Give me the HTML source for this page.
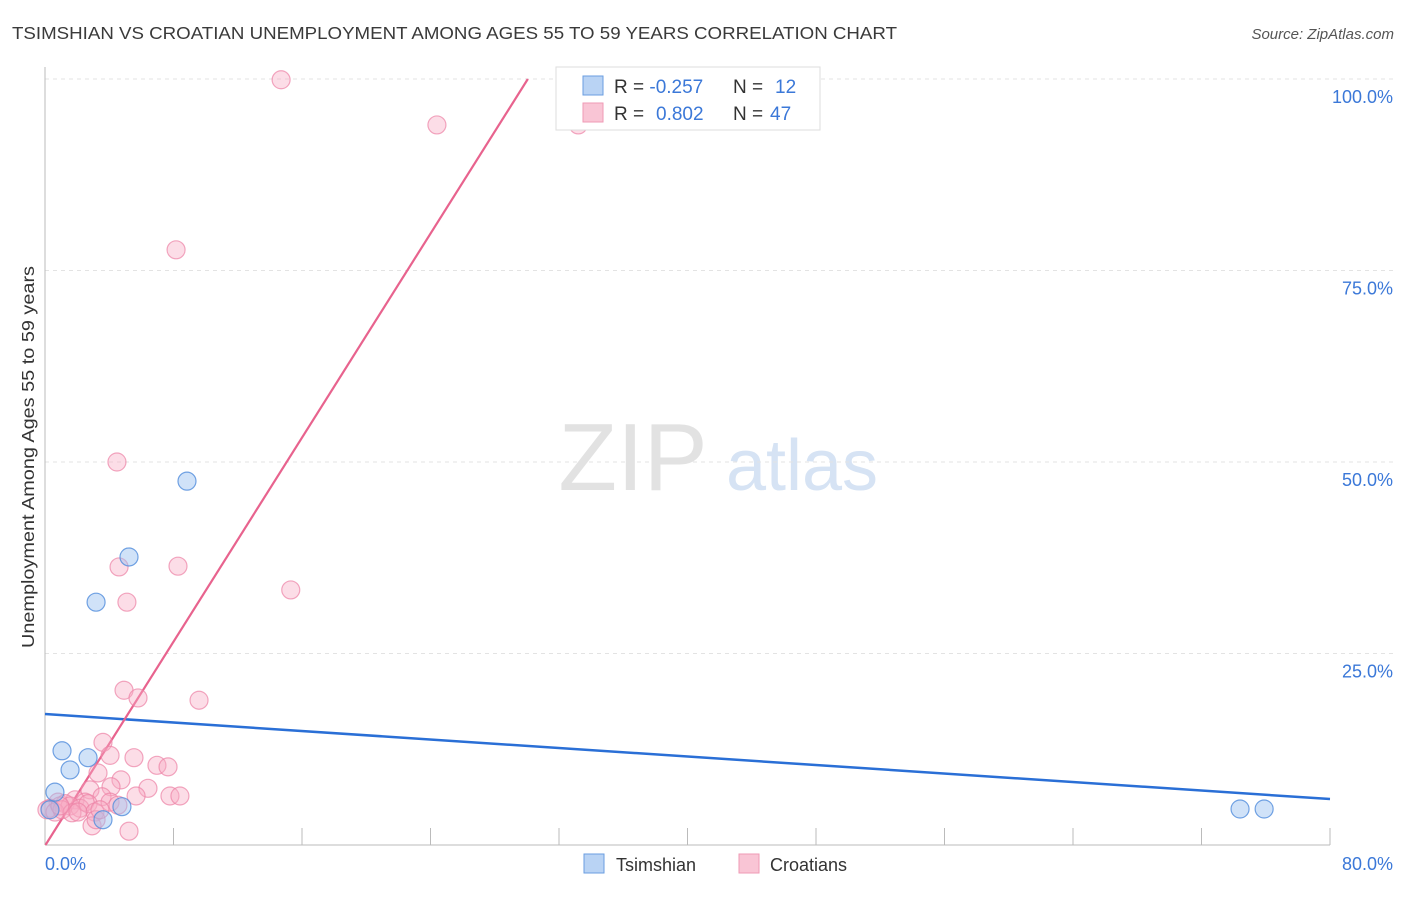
<!DOCTYPE html>
<html><head><meta charset="utf-8"><style>
body{margin:0;background:#fff;font-family:"Liberation Sans",sans-serif}
svg text{font-family:"Liberation Sans",sans-serif}
</style></head><body>
<svg id="chart" width="1406" height="892" xmlns="http://www.w3.org/2000/svg">
<text x="12" y="39" font-size="17.5" fill="#3a3a3a" textLength="885" lengthAdjust="spacingAndGlyphs">TSIMSHIAN VS CROATIAN UNEMPLOYMENT AMONG AGES 55 TO 59 YEARS CORRELATION CHART</text>
<text x="1394" y="39" font-size="15" fill="#555" text-anchor="end" font-style="italic">Source: ZipAtlas.com</text>
<g>
<text x="633" y="490" font-size="96" fill="#e2e2e2" text-anchor="middle" font-family="Liberation Serif, serif">ZIP</text>
<text x="802" y="490" font-size="72" fill="#d6e3f4" text-anchor="middle">atlas</text>
</g>
<g id="grid"></g>
<g id="axes"></g>
<g id="trends"></g>
<g id="points"></g>
<text transform="translate(34,648) rotate(-90)" font-size="17.5" fill="#333" textLength="382" lengthAdjust="spacingAndGlyphs">Unemployment Among Ages 55 to 59 years</text>
<text x="45" y="870" font-size="18" fill="#3b78d8">0.0%</text>
<text x="1393" y="870" font-size="18" fill="#3b78d8" text-anchor="end">80.0%</text>
<g>
<rect x="556" y="67" width="264" height="63" fill="#fff" stroke="#ddd"/>
<rect x="583" y="76" width="20" height="19" fill="#b9d3f4" stroke="#6a9ee0"/>
<rect x="583" y="103" width="20" height="19" fill="#f9c5d5" stroke="#ef9ab5"/>
<text x="614" y="93" font-size="19" fill="#333">R = <tspan fill="#3b78d8">-0.257</tspan><tspan x="733">N = </tspan><tspan fill="#3b78d8" x="775">12</tspan></text>
<text x="614" y="120" font-size="19" fill="#333">R = <tspan fill="#3b78d8" x="656">0.802</tspan><tspan x="733">N = </tspan><tspan fill="#3b78d8" x="770">47</tspan></text>
</g>
<g>
<rect x="584" y="854" width="20" height="19" fill="#b9d3f4" stroke="#6a9ee0"/>
<text x="616" y="871" font-size="18" fill="#333">Tsimshian</text>
<rect x="739" y="854" width="20" height="19" fill="#f9c5d5" stroke="#ef9ab5"/>
<text x="770" y="871" font-size="18" fill="#333">Croatians</text>
</g>
</svg>
<script>
const yTicks=[25,50,75,100];
const yTickLabels=["25.0%","50.0%","75.0%","100.0%"];
const xTicks=[0,8,16,24,32,40,48,56,64,72,80];
const tsimX=[0.62,1.06,1.56,2.68,3.18,3.61,4.79,5.23,8.84,74.4,75.9,0.31];
const tsimY=[6.9,12.3,9.8,11.4,31.7,3.3,5.0,37.6,47.5,4.7,4.7,4.6];
const croX=[14.7,24.4,33.2,8.16,4.48,4.61,8.28,5.1,15.3,4.92,5.79,9.59,3.61,4.05,5.54,6.97,7.66,3.3,4.73,6.41,4.11,2.8,5.67,7.78,8.4,3.55,1.87,2.49,0.81,1.25,1.56,2.18,0.31,0.12,0.62,1.06,2.68,3.11,4.05,4.54,2.93,5.23,3.18,3.42,1.68,0.93,2.05];
const croY=[99.9,94.0,94.0,77.7,50.0,36.3,36.4,31.7,33.3,20.2,19.2,18.9,13.4,11.7,11.4,10.4,10.2,9.4,8.5,7.4,7.6,7.2,6.4,6.4,6.4,6.3,5.9,5.6,5.6,5.4,5.1,4.8,4.8,4.6,4.3,4.6,5.4,4.3,5.6,5.2,2.5,1.8,3.3,4.6,4.2,5.1,4.3];
const tsimTrend=[17.1,6.0];   // y at x=0 and x=80
const croTrend=[-0.1,3.33];   // intercept, slope
const NS="http://www.w3.org/2000/svg";
const X=v=>45+v/80*1285, Y=v=>845-v/100*766;
function mk(tag,parent,attrs){const e=document.createElementNS(NS,tag);for(const k in attrs)e.setAttribute(k,attrs[k]);document.getElementById(parent).appendChild(e);return e;}
yTicks.forEach((t,i)=>{
 const g=mk('line','grid',{x1:45,x2:1393,y1:Y(t),y2:Y(t),stroke:'#e3e3e3','stroke-dasharray':'4,4'});
 
 
 const l=mk('text','grid',{x:1393,y:Y(t)+24,'font-size':18,fill:'#3b78d8','text-anchor':'end'});
 l.textContent=yTickLabels[i];
 
 
});
const xa=mk('line','axes',{x1:45,x2:1330,y1:845,y2:845,stroke:'#bbb'});


const ya=mk('line','axes',{x1:45,x2:45,y1:67,y2:845,stroke:'#bbb'});


xTicks.forEach(t=>{
 const k=mk('line','axes',{x1:X(t),x2:X(t),y1:828,y2:845,stroke:'#bbb'});
 
 
});
const bt=mk('line','trends',{x1:X(0),y1:Y(tsimTrend[0]),x2:X(80),y2:Y(tsimTrend[1]),stroke:'#2a6fd6','stroke-width':2.5});


const xEnd=Math.min(80,(100-croTrend[0])/croTrend[1]);
const xStart=Math.max(0,-croTrend[0]/croTrend[1]);
const pt=mk('line','trends',{x1:X(xStart),y1:Y(croTrend[0]+croTrend[1]*xStart),x2:X(xEnd),y2:Y(croTrend[0]+croTrend[1]*xEnd),stroke:'#e8638e','stroke-width':2.2});


croX.forEach((x,i)=>{
 const c=mk('circle','points',{cx:X(x),cy:Y(croY[i]),r:9,fill:'rgba(247,170,195,0.4)',stroke:'rgba(236,130,165,0.7)','stroke-width':1.2});
 
 
});
tsimX.forEach((x,i)=>{
 const c=mk('circle','points',{cx:X(x),cy:Y(tsimY[i]),r:9,fill:'rgba(150,190,240,0.45)',stroke:'rgba(80,140,220,0.8)','stroke-width':1.2});
 
 
});
</script>
</body></html>
